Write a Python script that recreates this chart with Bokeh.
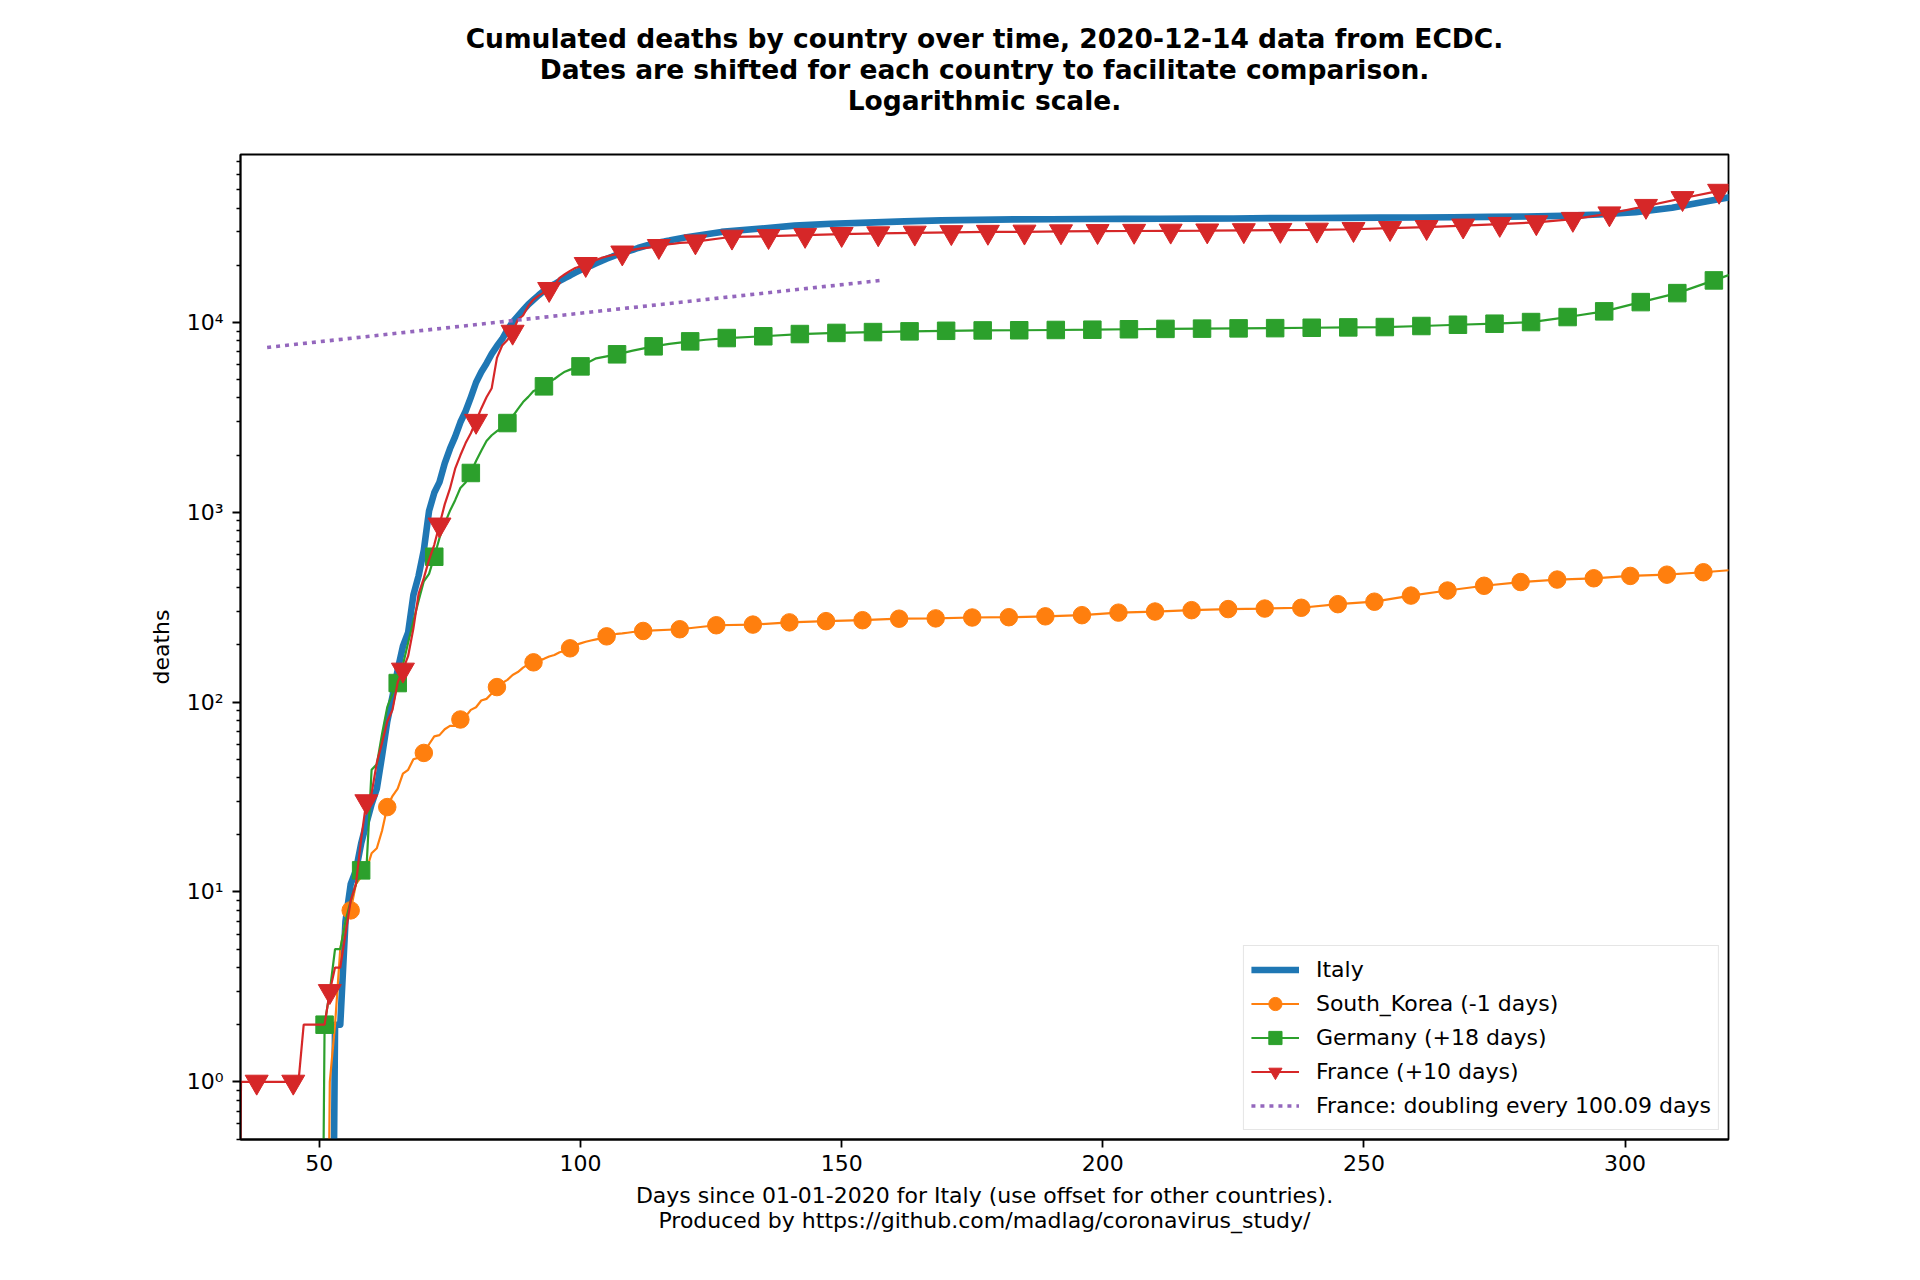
from bokeh.plotting import figure
from bokeh.models import (Range1d, FixedTicker, CustomJSTickFormatter, Legend,
                          LegendItem, Title)
from bokeh.embed import file_html
from bokeh.resources import INLINE

# ---------------- data ----------------
italy_days = list(range(52, 121)) + list(range(127, 324, 7))
italy_deaths = [0, 2, 2, 7, 11, 13, 18, 23, 29, 35, 52, 79, 107, 148, 197, 233, 366, 463,
                631, 1016, 1266, 1441, 1809, 2158, 2503, 2978, 3405, 4032, 4825, 5476,
                6077, 6820, 7503, 8165, 9134, 10023, 10779, 11591, 12428, 13155, 13915,
                14681, 15362, 15887, 16523, 17127, 17669, 18279, 18849, 19468, 19899,
                20465, 21067, 21645, 22170, 22745, 23227, 23660, 24114, 24648, 25085,
                25549, 25969, 26384, 26644, 26977, 27359, 27682, 27967,
                29958, 31106, 32330, 33072, 33530, 34043, 34448, 34678, 34869, 34938,
                35017, 35092, 35132, 35181, 35225, 35412, 35445, 35507, 35610, 35700,
                35801, 35941, 36140, 36400, 36970, 38000, 40200, 43600, 47200]

korea_days = list(range(51, 113)) + list(range(119, 323, 7))
korea_deaths = [0, 1, 2, 5, 7, 8, 11, 12, 13, 16, 17, 21, 28, 32, 35, 42, 44, 50, 51, 54,
                60, 66, 67, 72, 75, 75, 81, 84, 91, 94, 102, 104, 111, 120, 126, 131, 139,
                144, 152, 158, 162, 165, 169, 174, 177, 183, 186, 192, 200, 204, 208, 211,
                214, 217, 222, 225, 229, 230, 232, 234, 236, 237,
                242, 254, 256, 263, 267, 270, 275, 276, 279, 280, 283, 287, 296, 300, 305,
                309, 311, 314, 328, 338, 364, 387, 410, 429, 442, 449, 462, 469, 483, 500]

germany_days = list(range(50, 101)) + [103, 107, 110, 114, 117, 121, 124, 128] + \
    list(range(135, 325, 7))
germany_deaths = [0, 2, 3, 5, 5, 7, 9, 11, 13, 13, 44, 47, 68, 94, 111, 126, 157, 206, 267,
                  342, 433, 474, 583, 732, 872, 1017, 1158, 1342, 1434, 1610, 1861, 2107,
                  2373, 2544, 2673, 2799, 2950, 3194, 3495, 3804, 4052, 4352, 4459, 4605,
                  4862, 5033, 5279, 5500, 5640, 5750, 5865,
                  6467, 6790, 7100, 7480, 7700, 7943, 8100, 8270,
                  8450, 8680, 8800, 8890, 8970, 9030, 9070, 9090, 9120, 9150, 9200, 9240,
                  9270, 9300, 9325, 9370, 9410, 9450, 9570, 9720, 9840, 10040, 10670,
                  11430, 12790, 14260, 16640, 19500]

france_days = list(range(34, 123)) + list(range(129, 326, 7))
france_deaths = [0, 1, 1, 1, 1, 1, 1, 1, 1, 1, 1, 1, 1, 2, 2, 2, 2, 2, 3, 4, 4, 6, 9, 11,
                 19, 30, 33, 48, 61, 79, 91, 127, 148, 175, 244, 372, 450, 562, 674, 860,
                 1100, 1331, 1696, 1995, 2314, 2606, 3024, 3523, 4032, 4503, 6507, 7560,
                 8078, 8911, 10328, 10869, 12210, 13197, 13832, 14393, 14967, 15729, 17167,
                 17920, 18681, 19323, 19718, 20265, 20796, 21340, 21856, 22245, 22614,
                 22856, 23293, 23660, 24087, 24376, 24594, 24760, 24895, 25201, 25531,
                 25809, 25987, 26230, 26310, 26380, 26643,
                 28239, 28432, 28833, 29155, 29407, 29640, 29816, 29936, 30007, 30120,
                 30209, 30297, 30354, 30429, 30528, 30635, 30730, 30950, 31346, 31727,
                 32299, 32942, 33623, 35018, 37435, 40987, 45054, 49232, 52731]

fit_days = [40, 158]
fit_deaths = [7380, 16700]

x_ticks = [50, 100, 150, 200, 250, 300]
y_ticks = [1, 10, 100, 1000, 10000]

labels = ["Italy", "South_Korea (-1 days)", "Germany (+18 days)", "France (+10 days)",
          "France: doubling every 100.09 days"]
title_lines = ["Cumulated deaths by country over time, 2020-12-14 data from ECDC.",
               "Dates are shifted for each country to facilitate comparison.",
               "Logarithmic scale."]
xlabel = ("Days since 01-01-2020 for Italy (use offset for other countries).\n"
          "Produced by https://github.com/madlag/coronavirus_study/")

BLUE, ORANGE, GREEN, RED, PURPLE = "#1f77b4", "#ff7f0e", "#2ca02c", "#d62728", "#9467bd"
FONT = "DejaVu Sans"


def safe(vals):
    # zero deaths cannot be shown on a log axis: send them far below the frame
    return [v if v > 0 else 1e-3 for v in vals]


def weekly(days, vals, start):
    d = [x for x in days if x >= start and (x - start) % 7 == 0]
    v = [vals[days.index(x)] for x in d]
    return d, v


p = figure(frame_width=1488, frame_height=985,
           min_border_left=240, min_border_right=180,
           min_border_top=154, min_border_bottom=128,
           x_range=Range1d(34.9, 319.8), y_range=Range1d(0.497, 76600),
           y_axis_type="log", output_backend="svg", toolbar_location=None,
           title=None, background_fill_color="white", border_fill_color="white")

p.grid.visible = False
p.outline_line_color = "black"
p.outline_line_width = 1.8
p.outline_line_alpha = 1.0

# empty spacer between frame and title, then one centred title per line
p.add_layout(Title(text=" ", text_font=FONT, text_font_size="26.5px",
                   text_line_height=1.0, standoff=7), "above")
for txt in reversed(title_lines):
    p.add_layout(Title(text=txt, align="center", text_font=FONT, text_font_size="26.5px",
                       text_font_style="bold", text_color="black",
                       text_line_height=1.0, standoff=-2), "above")

minor = []
for e in range(-1, 5):
    for m in range(2, 10):
        v = m * 10 ** e
        if 0.49 < v < 77000:
            minor.append(v)

p.xaxis.ticker = FixedTicker(ticks=x_ticks)
p.yaxis.ticker = FixedTicker(ticks=y_ticks, minor_ticks=minor)
p.yaxis.formatter = CustomJSTickFormatter(code="""
const sup = {"-":"\u207b","0":"\u2070","1":"\u00b9","2":"\u00b2","3":"\u00b3","4":"\u2074",
             "5":"\u2075","6":"\u2076","7":"\u2077","8":"\u2078","9":"\u2079"};
const e = Math.round(Math.log10(tick));
return "10" + String(e).split("").map(c => sup[c]).join("");
""")

for ax in (p.xaxis[0], p.yaxis[0]):
    ax.axis_line_width = 1.8
    ax.axis_line_color = "black"
    ax.major_tick_line_width = 1.8
    ax.minor_tick_line_width = 1.4
    ax.major_tick_out = 8
    ax.major_tick_in = 0
    ax.minor_tick_out = 4
    ax.minor_tick_in = 0
    ax.major_label_text_font = FONT
    ax.major_label_text_font_size = "22px"
    ax.major_label_text_color = "black"
    ax.axis_label_text_font = FONT
    ax.axis_label_text_font_size = "22px"
    ax.axis_label_text_font_style = "normal"
    ax.axis_label_text_color = "black"

p.xaxis.minor_tick_out = 0
p.xaxis.major_label_standoff = 7
p.xaxis.axis_label = xlabel
p.xaxis.axis_label_standoff = 9
p.xaxis.axis_label_text_line_height = 1.0
p.yaxis.major_label_standoff = 9
p.yaxis.axis_label = "deaths"
p.yaxis.axis_label_standoff = 10

# series
r_it = p.line(italy_days, safe(italy_deaths), line_width=6.6, color=BLUE, line_join="round")

r_kr = p.line(korea_days, safe(korea_deaths), line_width=2.2, color=ORANGE)
kd, kv = weekly(korea_days, korea_deaths, 56)
m_kr = p.scatter(kd, kv, marker="circle", size=17.5, fill_color=ORANGE, line_color=ORANGE)

r_de = p.line(germany_days, safe(germany_deaths), line_width=2.2, color=GREEN)
gd, gv = weekly(germany_days, germany_deaths, 51)
m_de = p.scatter(gd, gv, marker="square", size=17.5, fill_color=GREEN, line_color=GREEN)

r_fr = p.line(france_days, safe(france_deaths), line_width=2.2, color=RED)
fd, fv = weekly(france_days, france_deaths, 38)
m_fr = p.scatter(fd, fv, marker="inverted_triangle", size=23, fill_color=RED, line_color=RED)

r_fit = p.line(fit_days, fit_deaths, line_width=3.6, color=PURPLE, line_dash="4 5")

legend = Legend(items=[
    LegendItem(label=labels[0], renderers=[r_it]),
    LegendItem(label=labels[1], renderers=[r_kr, m_kr]),
    LegendItem(label=labels[2], renderers=[r_de, m_de]),
    LegendItem(label=labels[3], renderers=[r_fr, m_fr]),
    LegendItem(label=labels[4], renderers=[r_fit]),
], location="bottom_right", margin=9, padding=7, spacing=1,
    glyph_width=48, glyph_height=33, label_standoff=17, label_height=26,
    label_text_font=FONT, label_text_font_size="22px", label_text_color="black",
    border_line_color="#cccccc", border_line_width=1.5,
    background_fill_color="white", background_fill_alpha=0.8)
p.add_layout(legend)

open("out.html", "w").write(file_html(p, INLINE))
